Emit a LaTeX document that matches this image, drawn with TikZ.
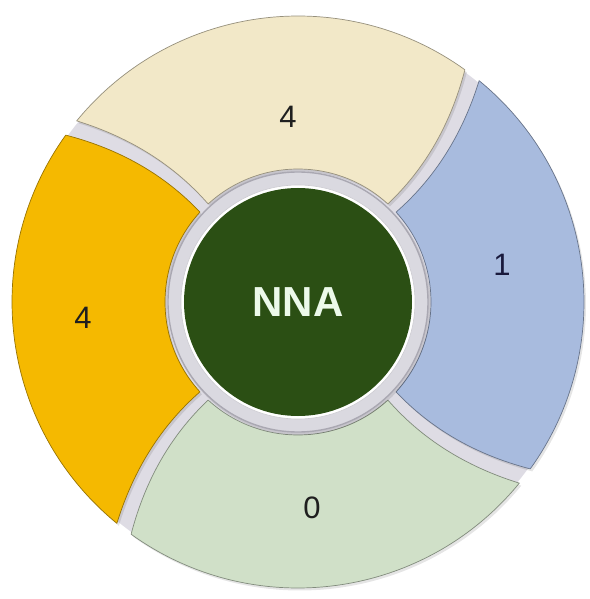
\documentclass[tikz,border=0pt]{standalone}
\usepackage{fontspec}
\setmainfont{Liberation Sans}
\usetikzlibrary{calc}
\definecolor{segbeige}{RGB}{242,232,200}
\definecolor{segblue}{RGB}{168,187,222}
\definecolor{seggreen}{RGB}{208,224,200}
\definecolor{segorange}{RGB}{245,185,0}
\definecolor{hubgreen}{RGB}{43,79,20}
\definecolor{hubtext}{RGB}{236,250,234}
\definecolor{ringgray}{RGB}{218,217,224}
\definecolor{ringedge}{RGB}{170,168,178}
\definecolor{gapgray}{RGB}{222,220,228}
\definecolor{navy}{RGB}{25,25,60}
\pgfdeclareradialshading{gapshade}{\pgfpoint{0bp}{0bp}}{color(0bp)=(gapgray); color(26bp)=(gapgray); color(44bp)=(white); color(50bp)=(white)}
\newcommand{\ringseg}[2]{%
  \pgfmathsetmacro\aI{#2+\gapI}%
  \pgfmathsetmacro\aC{#2-1+\gapC}%
  \pgfmathsetmacro\aO{#2+7.5+\gapO}%
  \pgfmathsetmacro\bO{#2+97.5-\gapO}%
  \pgfmathsetmacro\bC{#2+89-\gapC}%
  \pgfmathsetmacro\bI{#2+90-\gapI}%
  \path[#1] (\aI:\rI) .. controls ($(\aI:\rI)!0.6667!(\aC:\rC)$) and ($(\aO:\rO)!0.6667!(\aC:\rC)$) .. (\aO:\rO)
    arc[start angle=\aO, end angle=\bO, radius=\rO]
    .. controls ($(\bO:\rO)!0.6667!(\bC:\rC)$) and ($(\bI:\rI)!0.6667!(\bC:\rC)$) .. (\bI:\rI)
    arc[start angle=\bI, end angle=\aI, radius=\rI] -- cycle;%
}
\newcommand{\gapI}{2.5}
\newcommand{\gapC}{2}
\newcommand{\gapO}{1.8}
\newcommand{\rI}{133}
\newcommand{\rC}{210}
\newcommand{\rO}{286}
\tikzset{
  segshadow/.style={fill=black, opacity=0.10, shift={(2,-2.5)}},
  segbody/.style={fill=#1, draw=#1!62!black, line width=0.7pt, line join=round},
  digit/.style={font=\fontsize{31}{36}\selectfont, text=black!88},
}
\begin{document}
\begin{tikzpicture}[x=1pt,y=1pt]
\useasboundingbox (-298,-297) rectangle (291,302);
% gap background
\path[shading=gapshade] (0,0) circle[radius=284];
% segment shadows
\ringseg{segshadow}{45}
\ringseg{segshadow}{135}
\ringseg{segshadow}{225}
\ringseg{segshadow}{-45}
% segments
\ringseg{segbody=segbeige}{45}
\ringseg{segbody=segorange}{135}
\ringseg{segbody=seggreen}{225}
\ringseg{segbody=segblue}{-45}
% inner gray ring and hub
\fill[black, opacity=0.10] (1.5,-2) circle[radius=131];
\path[fill=ringgray, draw=ringedge, line width=1.4pt] (0,0) circle[radius=130];
\path[fill=white, draw=ringedge!60, line width=0.6pt] (0,0) circle[radius=117];
\node[circle, fill=hubgreen, minimum size=228pt, inner sep=0pt, text=hubtext,
      font=\bfseries\fontsize{42}{48}\selectfont] (hub) at (0,0) {NNA};
% labels
\node[digit] (ltop) at (-10,185) {4};
\node[digit, text=navy] (lright) at (204,37) {1};
\node[digit] (lleft) at (-215,-16) {4};
\node[digit] (lbottom) at (14,-206) {0};
\end{tikzpicture}
\end{document}
